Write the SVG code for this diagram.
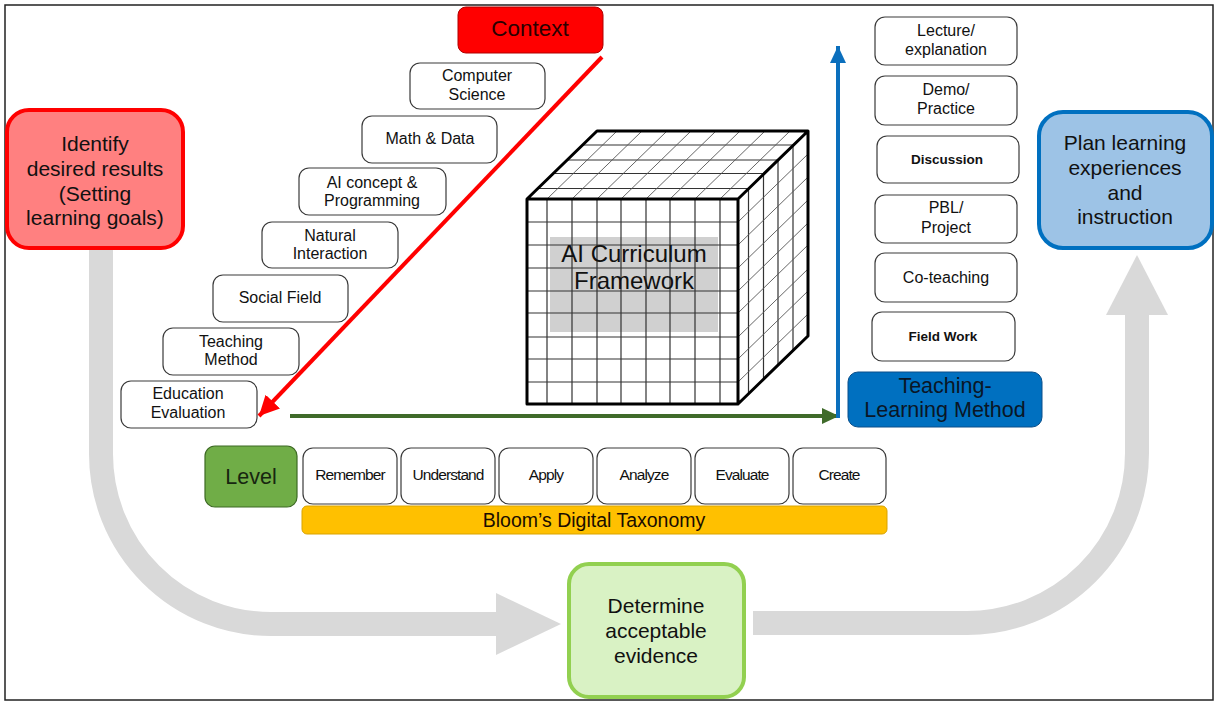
<svg xmlns="http://www.w3.org/2000/svg" width="1219" height="701" viewBox="0 0 1219 701">
  <defs>
    <marker id="headRed" markerUnits="userSpaceOnUse" markerWidth="22" markerHeight="20" refX="20" refY="10" orient="auto">
      <path d="M0,0 L20,10 L0,20 z" fill="#ff0000"/>
    </marker>
    <marker id="headGreen" markerUnits="userSpaceOnUse" markerWidth="18" markerHeight="16" refX="17" refY="8" orient="auto">
      <path d="M0,0 L17,8 L0,16 z" fill="#3f6b2a"/>
    </marker>
    <marker id="headBlue" markerUnits="userSpaceOnUse" markerWidth="18" markerHeight="16" refX="17" refY="8" orient="auto">
      <path d="M0,0 L17,8 L0,16 z" fill="#0b6fbd"/>
    </marker>
    <style>
      text { font-family: "Liberation Sans", Arial, sans-serif; fill: #111; text-anchor: middle; }
      .box { fill: #ffffff; stroke: #3a3a3a; stroke-width: 1.2; }
      .t16 { font-size: 16px; }
      .tb { font-size: 13.5px; font-weight: bold; }
      .bloom { font-size: 15.5px; letter-spacing: -0.9px; }
      .big { font-size: 21px; }
      .band { fill: none; stroke: #d9d9d9; stroke-width: 24; }
      .grid { stroke: #333; stroke-width: 1.2; fill: none; }
      .hatch { stroke: #555; stroke-width: 0.9; fill: none; }
      .edge { stroke: #000; stroke-width: 3; fill: none; stroke-linejoin: round; }
    </style>
  </defs>

  <!-- frame -->
  <rect x="5" y="5" width="1208" height="695" fill="#ffffff" stroke="#222" stroke-width="1.5"/>

  <!-- wide grey process arrows -->
  <g id="process-arrows">
    <path class="band" d="M101,248 V454 A170,170 0 0 0 271,624 H500"/>
    <polygon points="496,593 561,624 496,655" fill="#d9d9d9"/>
    <path class="band" d="M753,623 H967 A170,170 0 0 0 1137,453 V312"/>
    <polygon points="1106,315 1137,255 1168,315" fill="#d9d9d9"/>
  </g>

  <!-- three stage nodes -->
  <g id="identify">
    <rect x="7" y="110" width="176" height="138" rx="22" fill="#ff8080" stroke="#ff0000" stroke-width="4"/>
    <text class="big" x="95" y="150.5">Identify</text>
    <text class="big" x="95" y="175.5">desired results</text>
    <text class="big" x="95" y="200.5">(Setting</text>
    <text class="big" x="95" y="224.5">learning goals)</text>
  </g>
  <g id="plan">
    <rect x="1039" y="112" width="173" height="136" rx="24" fill="#9dc3e6" stroke="#0070c0" stroke-width="4"/>
    <text class="big" x="1125" y="150">Plan learning</text>
    <text class="big" x="1125" y="175">experiences</text>
    <text class="big" x="1125" y="200">and</text>
    <text class="big" x="1125" y="224">instruction</text>
  </g>
  <g id="determine">
    <rect x="569" y="564" width="175" height="133" rx="20" fill="#d9f2c4" stroke="#92d050" stroke-width="4"/>
    <text class="big" x="656" y="613">Determine</text>
    <text class="big" x="656" y="638">acceptable</text>
    <text class="big" x="656" y="663">evidence</text>
  </g>

  <!-- context axis -->
  <g id="context">
    <rect x="458" y="7" width="145" height="46" rx="8" fill="#ff0000" stroke="#b00000" stroke-width="1"/>
    <text x="530" y="36" style="font-size:22.5px; fill:#2a0000">Context</text>
  </g>
  <g id="ctx-computer-science">
    <rect class="box" x="410" y="63" width="135" height="46" rx="10"/>
    <text class="t16" x="477" y="81">Computer</text>
    <text class="t16" x="477" y="100">Science</text>
  </g>
  <g id="ctx-math-data">
    <rect class="box" x="362" y="116" width="135" height="47" rx="10"/>
    <text class="t16" x="430" y="144">Math &amp; Data</text>
  </g>
  <g id="ctx-ai-concept">
    <rect class="box" x="299" y="168" width="147" height="47" rx="10"/>
    <text class="t16" x="372" y="188">AI concept &amp;</text>
    <text class="t16" x="372" y="206">Programming</text>
  </g>
  <g id="ctx-natural-interaction">
    <rect class="box" x="262" y="222" width="136" height="46" rx="10"/>
    <text class="t16" x="330" y="241">Natural</text>
    <text class="t16" x="330" y="259">Interaction</text>
  </g>
  <g id="ctx-social-field">
    <rect class="box" x="213" y="275" width="135" height="47" rx="10"/>
    <text class="t16" x="280" y="303">Social Field</text>
  </g>
  <g id="ctx-teaching-method">
    <rect class="box" x="163" y="328" width="136" height="47" rx="10"/>
    <text class="t16" x="231" y="347">Teaching</text>
    <text class="t16" x="231" y="365">Method</text>
  </g>
  <g id="ctx-education-evaluation">
    <rect class="box" x="121" y="381" width="136" height="47" rx="10"/>
    <text class="t16" x="188" y="399">Education</text>
    <text class="t16" x="188" y="418">Evaluation</text>
  </g>

  <!-- teaching-learning method axis -->
  <g id="tl-lecture">
    <rect class="box" x="875" y="17" width="142" height="48" rx="10"/>
    <text class="t16" x="946" y="36">Lecture/</text>
    <text class="t16" x="946" y="55">explanation</text>
  </g>
  <g id="tl-demo">
    <rect class="box" x="875" y="76" width="142" height="49" rx="10"/>
    <text class="t16" x="946" y="95">Demo/</text>
    <text class="t16" x="946" y="114">Practice</text>
  </g>
  <g id="tl-discussion">
    <rect class="box" x="877" y="136" width="142" height="47" rx="10"/>
    <text class="tb" x="947" y="164">Discussion</text>
  </g>
  <g id="tl-pbl">
    <rect class="box" x="875" y="195" width="142" height="48" rx="10"/>
    <text class="t16" x="946" y="213">PBL/</text>
    <text class="t16" x="946" y="233">Project</text>
  </g>
  <g id="tl-coteaching">
    <rect class="box" x="875" y="253" width="142" height="49" rx="10"/>
    <text class="t16" x="946" y="283">Co-teaching</text>
  </g>
  <g id="tl-fieldwork">
    <rect class="box" x="872" y="312" width="143" height="49" rx="10"/>
    <text class="tb" x="943" y="341">Field Work</text>
  </g>
  <g id="teaching-learning-method">
    <rect x="848" y="372" width="194" height="55" rx="10" fill="#0070c0" stroke="#0a4f8a" stroke-width="1"/>
    <text x="945" y="393" style="font-size:21.5px; fill:#0a1626">Teaching-</text>
    <text x="945" y="417" style="font-size:21.5px; fill:#0a1626">Learning Method</text>
  </g>

  <!-- level axis -->
  <g id="level">
    <rect x="205" y="446" width="92" height="61" rx="10" fill="#70ad47" stroke="#3d6a24" stroke-width="1.2"/>
    <text x="251" y="484" style="font-size:21.5px; fill:#172610">Level</text>
  </g>
  <g id="lv-remember">
    <rect class="box" x="303" y="448" width="94" height="56" rx="10"/>
    <text class="bloom" x="350" y="480">Remember</text>
  </g>
  <g id="lv-understand">
    <rect class="box" x="401" y="448" width="94" height="56" rx="10"/>
    <text class="bloom" x="448" y="480">Understand</text>
  </g>
  <g id="lv-apply">
    <rect class="box" x="499" y="448" width="94" height="56" rx="10"/>
    <text class="bloom" x="546" y="480">Apply</text>
  </g>
  <g id="lv-analyze">
    <rect class="box" x="597" y="448" width="94" height="56" rx="10"/>
    <text class="bloom" x="644" y="480">Analyze</text>
  </g>
  <g id="lv-evaluate">
    <rect class="box" x="695" y="448" width="94" height="56" rx="10"/>
    <text class="bloom" x="742" y="480">Evaluate</text>
  </g>
  <g id="lv-create">
    <rect class="box" x="793" y="448" width="93" height="56" rx="10"/>
    <text class="bloom" x="839" y="480">Create</text>
  </g>
  <g id="bloom-taxonomy">
    <rect x="302" y="506" width="585" height="28" rx="5" fill="#ffc000" stroke="#d9a300" stroke-width="1"/>
    <text x="594" y="527" style="font-size:19.5px; fill:#1a0d00">Bloom’s Digital Taxonomy</text>
  </g>

  <!-- framework cube -->
  <g id="framework-cube">
    <rect x="527" y="199" width="211" height="205" fill="#ffffff"/>
    <polygon points="527,199 597,131 808,131 738,199" fill="#ffffff"/>
    <polygon points="738,199 808,131 808,336 738,404" fill="#ffffff"/>
    <rect x="550" y="237" width="168" height="95" fill="#d0d0d0"/>
    <!-- front face grid -->
    <path class="grid" d="M547,199V404 M572,199V404 M597,199V404 M621,199V404 M646,199V404 M670,199V404 M695,199V404 M720,199V404
      M527,222H738 M527,245H738 M527,268H738 M527,291H738 M527,313H738 M527,337H738 M527,359H738 M527,382H738"/>
    <!-- top face: depth lines and receding column lines -->
    <path class="grid" d="M537.5,188.5H748.5 M552.5,173.5H763.5 M567,160H778 M582,145H793"/>
    <path class="hatch" d="M547,199L617,131 M572,199L642,131 M597,199L667,131 M621,199L691,131 M646,199L716,131 M670,199L740,131 M695,199L765,131 M720,199L790,131"/>
    <!-- side face: depth lines and receding row lines -->
    <path class="grid" d="M748.5,188.5V393.5 M763.5,173.5V378.5 M778,160V365 M793,145V350"/>
    <path class="hatch" d="M738,222L808,154 M738,245L808,177 M738,268L808,200 M738,291L808,223 M738,313L808,245 M738,337L808,269 M738,359L808,291 M738,382L808,314"/>
    <!-- outline -->
    <path class="edge" d="M527,199H738V404H527Z M527,199L597,131H808L738,199 M808,131V336L738,404"/>
    <text x="634" y="262" style="font-size:24px">AI Curriculum</text>
    <text x="634" y="289" style="font-size:24px">Framework</text>
  </g>

  <!-- axis connectors -->
  <g id="connectors">
    <line x1="602" y1="57" x2="259" y2="416" stroke="#ff0000" stroke-width="4" marker-end="url(#headRed)"/>
    <line x1="290" y1="416" x2="839" y2="416" stroke="#3f6b2a" stroke-width="4" marker-end="url(#headGreen)"/>
    <line x1="838" y1="418" x2="838" y2="46" stroke="#0b6fbd" stroke-width="4" marker-end="url(#headBlue)"/>
  </g>
</svg>
